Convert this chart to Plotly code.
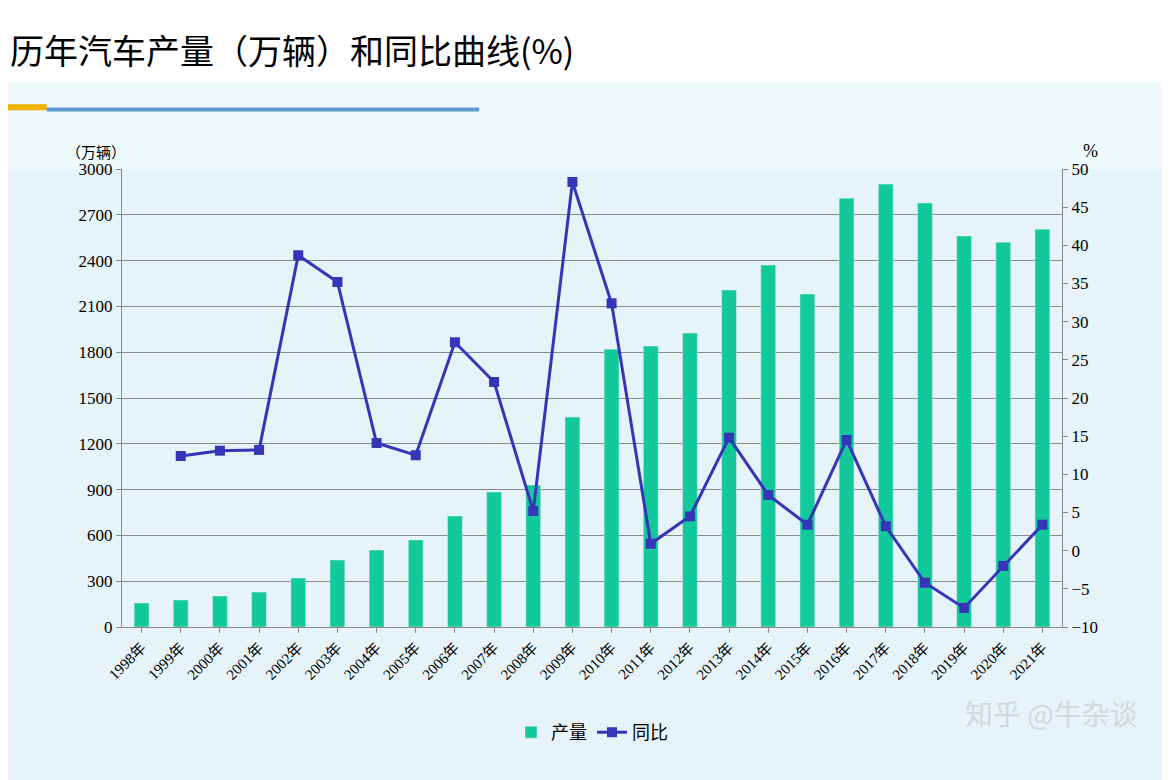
import plotly.graph_objects as go

years = [f"{y}年" for y in range(1998, 2022)]
production = [157, 177, 203, 229, 321, 439, 504, 570, 727, 884, 930, 1375, 1820, 1840,
              1925, 2207, 2371, 2181, 2809, 2901, 2777, 2561, 2521, 2606]
yoy_years = years[1:]
yoy = [12.4, 13.1, 13.2, 38.7, 35.2, 14.1, 12.5, 27.3, 22.1, 5.2, 48.3, 32.4, 0.9,
       4.5, 14.8, 7.3, 3.4, 14.5, 3.2, -4.2, -7.5, -2.0, 3.4]

serif = "Liberation Serif, Noto Sans CJK SC"
fig = go.Figure()
fig.add_trace(go.Bar(x=years, y=production, name="产量", marker_color="#12c99b", width=0.38))
fig.add_trace(go.Scatter(x=yoy_years, y=yoy, name="同比", yaxis="y2", mode="lines+markers",
                         line=dict(color="#3535b8", width=3),
                         marker=dict(symbol="square", size=10, color="#3535b8")))

fig.update_layout(
    width=1170, height=780,
    margin=dict(l=114, r=116, t=161, b=161),
    paper_bgcolor="#e6f3f8", plot_bgcolor="rgba(0,0,0,0)",
    font=dict(family=serif, size=17, color="black"),
    showlegend=True,
    legend=dict(orientation="h", x=0.5, xanchor="center", y=-0.19, yanchor="top",
                font=dict(family="Noto Sans CJK SC", size=18), bgcolor="rgba(0,0,0,0)"),
    xaxis=dict(tickangle=-45, showline=True, linecolor="#888", ticks="outside",
               tickcolor="#888", tickfont=dict(size=15), type="category",
               range=[-0.5, len(years) - 0.5], categoryorder="array", categoryarray=years),
    yaxis=dict(range=[0, 3000], dtick=300, showgrid=True, gridcolor="#8a8a8a",
               showline=True, linecolor="#888", ticks="outside", tickcolor="#888", zeroline=False),
    yaxis2=dict(range=[-10, 50], dtick=5, overlaying="y", side="right", showgrid=False,
                showline=True, linecolor="#888", ticks="outside", tickcolor="#888", zeroline=False),
    shapes=[
        dict(type="rect", xref="paper", yref="paper", x0=-0.14, x1=1.13, y0=1.0, y1=1.19,
             fillcolor="#eef9fb", line_width=0, layer="below"),
        dict(type="rect", xref="paper", yref="paper", x0=-0.14, x1=1.13, y0=1.19, y1=1.4,
             fillcolor="white", line_width=0, layer="below"),
        dict(type="line", xref="paper", yref="paper", x0=-0.14, x1=-0.08, y0=1.135, y1=1.135,
             line=dict(color="#f0b400", width=6)),
        dict(type="line", xref="paper", yref="paper", x0=-0.08, x1=0.38, y0=1.13, y1=1.13,
             line=dict(color="#5a9ad0", width=4)),
    ],
    annotations=[
        dict(text="历年汽车产量（万辆）和同比曲线(%)", xref="paper", yref="paper", x=-0.121, y=1.26,
             xanchor="left", yanchor="middle", showarrow=False,
             font=dict(family="Noto Sans CJK SC", size=34, color="black")),
        dict(text="（万辆）", xref="paper", yref="paper", x=-0.062, y=1.065, xanchor="left",
             showarrow=False, font=dict(family="Noto Sans CJK SC", size=15, color="black")),
        dict(text="%", xref="paper", yref="paper", x=1.02, y=1.065, xanchor="left",
             showarrow=False, font=dict(size=18)),
        dict(text="知乎 @牛杂谈", xref="paper", yref="paper", x=1.083, y=-0.236, xanchor="right",
             showarrow=False, font=dict(family="Noto Sans CJK SC", size=28, color="#d3d9dc")),
    ],
)
fig.write_html("out.html")
